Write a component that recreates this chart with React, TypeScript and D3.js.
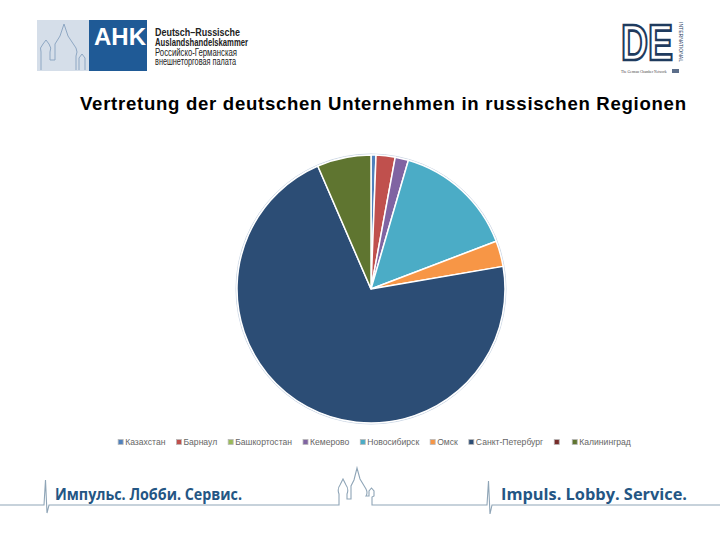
import React, { useEffect, useRef } from "react";
import * as d3 from "d3";

const categories = ["Казахстан", "Барнаул", "Башкортостан", "Кемерово", "Новосибирск", "Омск", "Санкт-Петербург", "", "Калининград"];
const values = [0.6, 2.3, 0, 1.6, 14.7, 3.1, 71.2, 0, 6.5];
const colors = ["#4F81BD", "#C0504D", "#9BBB59", "#8064A2", "#4BACC6", "#F79646", "#2C4D75", "#772C2A", "#5F7530"];
const title = "Vertretung der deutschen Unternehmen in russischen Regionen";
const footerRu = "Импульс. Лобби. Сервис.";
const footerDe = "Impuls. Lobby. Service.";
const ahkLines = ["Deutsch–Russische", "Auslandshandelskammer", "Российско-Германская", "внешнеторговая палата"];
const ahkWidths = [85, 93, 82, 81];

export default function App() {
  const ref = useRef<SVGSVGElement>(null);
  useEffect(() => {
    const svg = d3.select(ref.current);
    svg.selectAll("*").remove();
    svg.append("rect").attr("width", 720).attr("height", 540).attr("fill", "#fff");

    // ---- AHK logo ----
    const ahk = svg.append("g");
    ahk.append("rect").attr("x", 37).attr("y", 20).attr("width", 52).attr("height", 51).attr("fill", "#D5DEE9");
    ahk.append("path")
      .attr("d", "M41,70 L41,52 Q39,48 43,44 L46,40 L49,44 Q52,48 50,52 L50,60 L55,60 L55,44 L60,36 L64,24 L68,36 L72,42 L76,48 Q78,52 76,56 L76,70 M79,70 L79,58 L82,54 L85,58 L85,70")
      .attr("fill", "none").attr("stroke", "#8EA7C3").attr("stroke-width", 1);
    ahk.append("rect").attr("x", 89).attr("y", 20).attr("width", 58).attr("height", 51).attr("fill", "#1F5A96");
    ahk.append("text").attr("x", 120).attr("y", 45).attr("text-anchor", "middle")
      .attr("font-family", "Liberation Sans, Arial, sans-serif").attr("font-weight", "bold")
      .attr("font-size", 24).attr("fill", "#fff").text("AHK");
    ahkLines.forEach((t, i) => {
      ahk.append("text").attr("x", 155).attr("y", 36 + i * 9.8)
        .attr("font-family", "Liberation Sans, Arial, sans-serif")
        .attr("font-weight", i < 2 ? "bold" : "normal")
        .attr("font-size", 10).attr("textLength", ahkWidths[i]).attr("lengthAdjust", "spacingAndGlyphs")
        .attr("fill", "#222").text(t);
    });

    // ---- DE International logo ----
    const de = svg.append("g");
    de.append("text").attr("x", 621).attr("y", 60)
      .attr("font-family", "Liberation Sans, Arial, sans-serif").attr("font-weight", "bold")
      .attr("font-size", 50).attr("textLength", 52).attr("lengthAdjust", "spacingAndGlyphs")
      .attr("fill", "#fff").attr("stroke", "#1F3B5E").attr("stroke-width", 2.6).text("DE");
    de.append("text").attr("transform", "translate(679,22) rotate(90)")
      .attr("font-family", "Liberation Sans, Arial, sans-serif").attr("font-size", 5)
      .attr("textLength", 40).attr("fill", "#1F3B5E").text("INTERNATIONAL");
    de.append("text").attr("x", 621).attr("y", 73)
      .attr("font-family", "Liberation Serif, serif").attr("font-size", 3.6)
      .attr("fill", "#444").text("The German Chamber Network");
    de.append("rect").attr("x", 672).attr("y", 69).attr("width", 7).attr("height", 4).attr("fill", "#5C6E8A");

    // ---- Title ----
    svg.append("text").attr("x", 383).attr("y", 110).attr("text-anchor", "middle")
      .attr("font-family", "Liberation Sans, Arial, sans-serif").attr("font-weight", "bold")
      .attr("font-size", 18.6).attr("textLength", 606).attr("lengthAdjust", "spacing")
      .attr("fill", "#000").text(title);

    // ---- Pie ----
    const cx = 371, cy = 289, r = 134;
    const g = svg.append("g").attr("transform", `translate(${cx},${cy})`);
    g.append("circle").attr("r", r + 1).attr("fill", "none").attr("stroke", "#C9D5E4").attr("stroke-width", 1);
    const arcs = d3.pie<number>().sort(null).value((d) => d)(values);
    const arc = d3.arc<d3.PieArcDatum<number>>().innerRadius(0).outerRadius(r);
    g.selectAll("path.slice").data(arcs.filter((d) => d.data > 0)).join("path")
      .attr("class", "slice").attr("d", arc)
      .attr("fill", (d) => colors[d.index])
      .attr("stroke", "#fff").attr("stroke-width", 1.5).attr("stroke-linejoin", "round");

    // ---- Legend ----
    const lg = svg.append("g");
    const fs = 8.6;
    const items = lg.selectAll("g.item").data(categories).join("g").attr("class", "item");
    items.append("rect").attr("width", 5).attr("height", 5).attr("y", -5.5)
      .attr("fill", (_, i) => colors[i]).attr("stroke", "#B8B8B8").attr("stroke-width", 0.8);
    items.append("text").attr("x", 7).attr("y", 0)
      .attr("font-family", "Liberation Sans, Arial, sans-serif").attr("font-size", fs)
      .attr("fill", "#666").text((d) => d);
    const widths: number[] = [];
    items.each(function () {
      const t = d3.select(this).select("text").node() as SVGTextElement;
      widths.push(7 + t.getComputedTextLength());
    });
    const gap = 11;
    const total = d3.sum(widths) + gap * (widths.length - 1);
    let x = 374.5 - total / 2;
    items.attr("transform", (_, i) => {
      const tx = x;
      x += widths[i] + gap;
      return `translate(${tx},${445})`;
    });

    // ---- Footer ----
    const fy = 505;
    const line = "#8FA5B7";
    svg.append("path")
      .attr("d", `M0,${fy} L44,${fy} L45.5,480 L47,513 L49,${fy} L336,${fy} L339,${fy} L339,494 Q337,489 340,485 L343,479 L346,485 Q349,489 347,494 L347,499 L351,499 L351,486 L354,480 L357,468 L360,479 L363,484 L366,489 Q368,493 366,496 L369,496 L369,491 L371.5,488 L374,491 L374,496 L372,497 L372,${fy} L487,${fy} L488.5,481 L490,514 L492,${fy} L720,${fy}`)
      .attr("fill", "none").attr("stroke", line).attr("stroke-width", 1.1);
    svg.append("text").attr("x", 55).attr("y", 500)
      .attr("font-family", "Open Sans, sans-serif").attr("font-weight", 700)
      .attr("font-size", 16).attr("textLength", 187).attr("lengthAdjust", "spacingAndGlyphs")
      .attr("fill", "#245684").text(footerRu);
    svg.append("text").attr("x", 501).attr("y", 500)
      .attr("font-family", "Open Sans, sans-serif").attr("font-weight", 700)
      .attr("font-size", 16).attr("textLength", 186).attr("lengthAdjust", "spacingAndGlyphs")
      .attr("fill", "#245684").text(footerDe);
  }, []);
  return (
    <svg ref={ref} width={720} height={540} style={{ position: "absolute", left: 0, top: 0 }} />
  );
}
